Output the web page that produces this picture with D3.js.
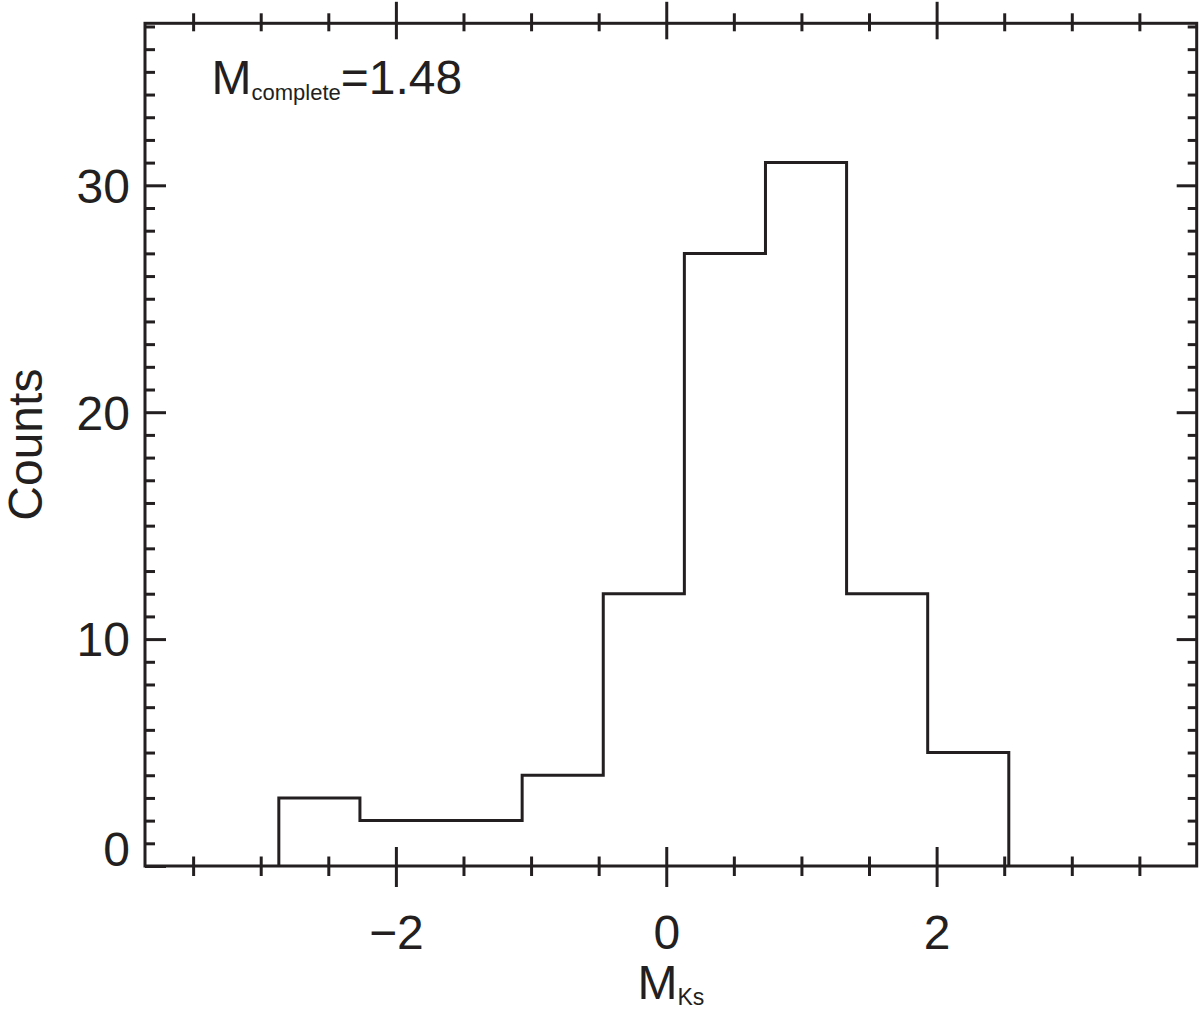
<!DOCTYPE html>
<html><head><meta charset="utf-8">
<script src="https://cdn.jsdelivr.net/npm/d3@7"></script>
<style>
body{margin:0;background:#fff}
svg{display:block}
text{font-family:"Liberation Sans",Arial,Helvetica,sans-serif;fill:#231f20}
</style>
</head><body><svg id="c" width="1200" height="1010"></svg>
<script>
// ---- data ----
const binLefts = [-2.866, -2.266, -1.666, -1.066, -0.466, 0.134, 0.734, 1.334, 1.934];
const binWidth = 0.6;
const counts = [3, 2, 2, 4, 12, 27, 31, 12, 5];
const xMajorTicks = [-2, 0, 2];
const xMinorTicks = [-3.5, -3, -2.5, -1.5, -1, -0.5, 0.5, 1, 1.5, 2.5, 3, 3.5];
const yMajorTicks = [0, 10, 20, 30];
const yMinorTicks = d3.range(0, 38).filter(v => v % 10 !== 0);
const xDomain = [-3.856, 3.924];
const yDomain = [0, 37.14];
const xTitle = {main: "M", sub: "Ks"};
const yTitle = "Counts";
const note = {main: "M", sub: "complete", rest: "=1.48"};

// ---- layout ----
const L = 145, R = 1196.7, T = 23.3, B = 866;
const ink = "#231f20";
const svg = d3.select("#c");
const x = d3.scaleLinear().domain(xDomain).range([L, R]);
const y = d3.scaleLinear().domain(yDomain).range([B, T]);
const fmt = d => d < 0 ? "\u2212" + Math.abs(d) : String(d);

function styleAxis(g){
  g.select(".domain").remove();
  g.selectAll(".tick line").attr("stroke", ink).attr("stroke-width", 3);
  g.selectAll(".tick text").attr("font-size", 48).attr("fill", ink)
   .attr("font-family", '"Liberation Sans",Arial,Helvetica,sans-serif');
}

// bottom axis: major
const gb = svg.append("g").attr("transform", `translate(0,${B})`)
  .call(d3.axisBottom(x).tickValues(xMajorTicks).tickFormat(fmt).tickSizeOuter(0));
styleAxis(gb);
gb.selectAll(".tick line").attr("y1", -19).attr("y2", 21);
gb.selectAll(".tick text").attr("y", 82.5).attr("dy", 0);
// bottom axis: minor
const gbm = svg.append("g").attr("transform", `translate(0,${B})`)
  .call(d3.axisBottom(x).tickValues(xMinorTicks).tickFormat("").tickSizeOuter(0));
styleAxis(gbm);
gbm.selectAll(".tick line").attr("y1", -9.5).attr("y2", 10);

// top axis
const gt = svg.append("g").attr("transform", `translate(0,${T})`)
  .call(d3.axisTop(x).tickValues(xMajorTicks).tickFormat("").tickSizeOuter(0));
styleAxis(gt);
gt.selectAll(".tick line").attr("y1", -21.5).attr("y2", 16);
const gtm = svg.append("g").attr("transform", `translate(0,${T})`)
  .call(d3.axisTop(x).tickValues(xMinorTicks).tickFormat("").tickSizeOuter(0));
styleAxis(gtm);
gtm.selectAll(".tick line").attr("y1", -10).attr("y2", 8);

// left axis
const gl = svg.append("g").attr("transform", `translate(${L},0)`)
  .call(d3.axisLeft(y).tickValues(yMajorTicks).tickFormat(fmt).tickSize(-21).tickSizeOuter(0));
styleAxis(gl);
gl.selectAll(".tick text").attr("x", -15).attr("dy", "0.35em")
  .attr("transform", d => d === 0 ? "translate(0,-17)" : null);
const glm = svg.append("g").attr("transform", `translate(${L},0)`)
  .call(d3.axisLeft(y).tickValues(yMinorTicks).tickFormat("").tickSize(-10).tickSizeOuter(0));
styleAxis(glm);

// right axis
const gr = svg.append("g").attr("transform", `translate(${R},0)`)
  .call(d3.axisRight(y).tickValues(yMajorTicks.filter(v => v > 0)).tickFormat("").tickSize(-20).tickSizeOuter(0));
styleAxis(gr);
const grm = svg.append("g").attr("transform", `translate(${R},0)`)
  .call(d3.axisRight(y).tickValues(yMinorTicks).tickFormat("").tickSize(-9).tickSizeOuter(0));
styleAxis(grm);

// frame
svg.append("rect").attr("x", L).attr("y", T).attr("width", R - L).attr("height", B - T)
  .attr("fill", "none").attr("stroke", ink).attr("stroke-width", 3);

// histogram step outline
const pts = [[binLefts[0], 0]];
binLefts.forEach((l, i) => { pts.push([l, counts[i]]); pts.push([l + binWidth, counts[i]]); });
pts.push([binLefts[binLefts.length - 1] + binWidth, 0]);
svg.append("path")
  .attr("d", d3.line().x(d => x(d[0])).y(d => y(d[1]))(pts))
  .attr("fill", "none").attr("stroke", ink).attr("stroke-width", 3)
  .attr("stroke-linejoin", "miter");

// x title
const xt = svg.append("text").attr("x", (L + R) / 2).attr("y", 999)
  .attr("text-anchor", "middle").attr("font-size", 48);
xt.append("tspan").text(xTitle.main);
xt.append("tspan").attr("font-size", 23).attr("dy", 5.5).text(xTitle.sub);

// y title
svg.append("text").attr("transform", `translate(41.5,${(T + B) / 2}) rotate(-90)`)
  .attr("text-anchor", "middle").attr("font-size", 48).text(yTitle);

// annotation
const nt = svg.append("text").attr("x", 211.5).attr("y", 94).attr("font-size", 48);
nt.append("tspan").text(note.main);
nt.append("tspan").attr("font-size", 22).attr("dy", 6).text(note.sub);
nt.append("tspan").attr("dy", -6).text(note.rest);
</script>
</body></html>
